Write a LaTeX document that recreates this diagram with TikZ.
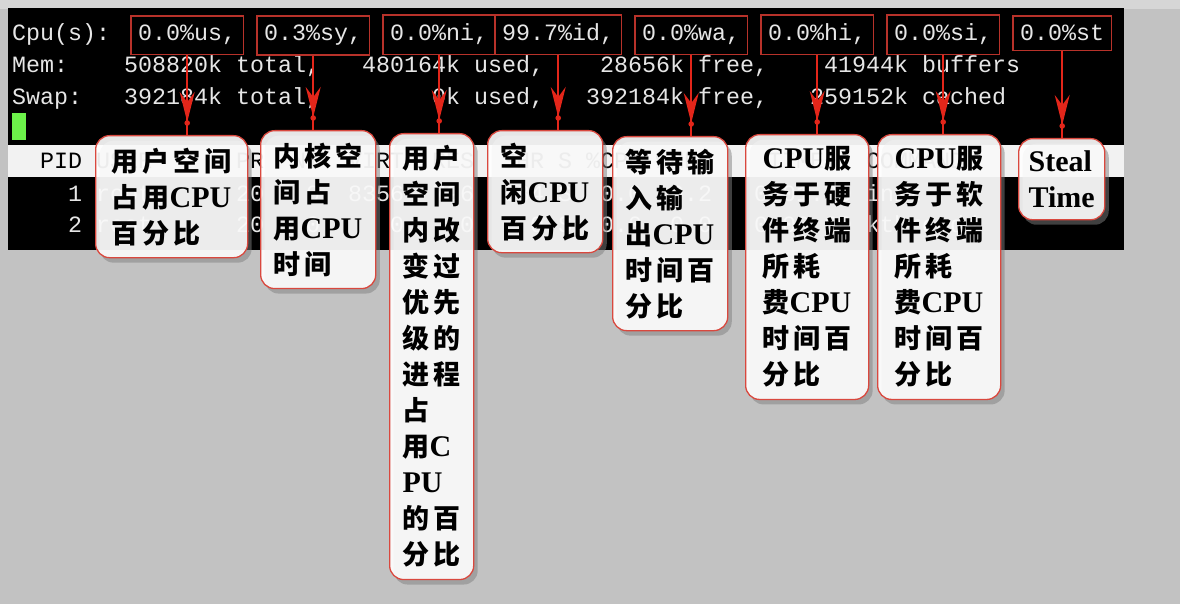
\documentclass[tikz,border=0pt]{standalone}
\usepackage{fontspec}
\usepackage{xcolor}
\usepackage{tikz}
\usetikzlibrary{arrows.meta,positioning,fit,shadows,decorations.markings}
\newfontfamily\termfont{Liberation Mono}
\newfontfamily\cjk[LetterSpace=15]{Noto Sans CJK SC}
\newfontfamily\latinfont{Liberation Serif}
\newcommand\lat[1]{{\latinfont\bfseries\fontsize{30}{36}\selectfont #1}}
\definecolor{TermBg}{HTML}{000000}
\definecolor{TermFg}{HTML}{E6E6E6}
\definecolor{HeadBand}{HTML}{F2F2F2}
\definecolor{CursorGreen}{HTML}{6CF24A}
\definecolor{PageGray}{HTML}{C2C2C2}
\definecolor{TopStrip}{HTML}{D6D6D6}
\definecolor{BoxRed}{HTML}{B8322A}
\definecolor{ArrowRed}{HTML}{E3261A}
\definecolor{NoteRed}{HTML}{D9483E}
\tikzset{
  termtext/.style={font=\termfont\fontsize{23.33}{28}\selectfont, text=TermFg,
    inner sep=0pt, anchor=base west},
  headtext/.style={termtext, text=black},
  valbox/.style={draw=BoxRed, line width=1.4pt, inner xsep=7pt, inner ysep=9pt},
  note/.style={draw=NoteRed, line width=1.3pt, rounded corners=14pt, fill=white,
    fill opacity=0.9, text opacity=1, text=black,
    drop shadow={shadow xshift=4pt, shadow yshift=-5pt, opacity=0.5},
    inner xsep=13pt, inner ysep=12pt, align=left, anchor=north west,
    font=\cjk\bfseries\fontsize{27}{36}\selectfont},
  pointer/.style={ArrowRed, line width=1.8pt, postaction={decorate},
    decoration={markings,
      mark=at position -13pt with {\arrow{Stealth[length=30pt,width=15pt,inset=10pt]}},
      mark=at position -12pt with {\fill circle (2.8pt);}}},
}
\begin{document}
\begin{tikzpicture}[x=1pt,y=-1pt]
\useasboundingbox (0,0) rectangle (1180,604);
\fill[PageGray] (0,0) rectangle (1180,604);
\fill[TopStrip] (0,0) rectangle (1180,9);
% terminal window
\fill[TermBg] (8,8) rectangle (1124,250);
\fill[HeadBand] (8,145) rectangle (1124,177);
\fill[CursorGreen] (12,113) rectangle (26,140);

\node[termtext] (cpu) at (12,41) {Cpu(s):};
\foreach \col/\val/\nm in {9/{0.0\%us,}/us, 18/{0.3\%sy,}/sy, 27/{0.0\%ni,}/ni,
    35/{99.7\%id,}/id, 45/{0.0\%wa,}/wa, 54/{0.0\%hi,}/hi, 63/{0.0\%si,}/si, 72/{0.0\%st}/st}
  \node[termtext] (\nm) at (12+\col*14,41) {\val};
\node[termtext] (mem) at (12,73) {Mem:~~~~508820k total,~~~480164k used,~~~~28656k free,~~~~41944k buffers};
\node[termtext] (swap) at (12,105) {Swap:~~~392184k total,~~~~~~~~0k used,~~~392184k free,~~~259152k cached};
\node[headtext] (head) at (12,169) {~~PID USER~~~~~~PR~~NI~~VIRT~~RES~~SHR S \%CPU \%MEM~~~~TIME+~~COMMAND};
\node[termtext] (row1) at (12,201) {~~~~1 root~~~~~~20~~~0~~8356~~796~~684 S~~0.0~~0.2~~~0:01.00 init};
\node[termtext] (row2) at (12,233) {~~~~2 root~~~~~~20~~~0~~~~~0~~~~0~~~~0 S~~0.0~~0.0~~~0:00.00 kthreadd};

\foreach \nm in {us,sy,ni,id,wa,hi,si,st}
  \node[valbox, fit=(\nm)] (\nm-box) {};

% callouts
\node[note, minimum width=152pt] (us-note) at (95,135) {用户空间\\占用\lat{CPU}\\百分比};
\node[note] (sy-note) at (260,130) {内核空\\间占\\用\lat{CPU}\\时间};
\node[note] (ni-note) at (389,133) {用户\\空间\\内改\\变过\\优先\\级的\\进程\\占\\用\lat{C}\\\lat{PU}\\的百\\分比};
\node[note] (id-note) at (487,130) {空\\闲\lat{CPU}\\百分比};
\node[note] (wa-note) at (612,136) {等待输\\入输\\出\lat{CPU}\\时间百\\分比};
\node[note, minimum width=123pt] (hi-note) at (745,134) {\lat{CPU}服\\务于硬\\件终端\\所耗\\费\lat{CPU}\\时间百\\分比};
\node[note, minimum width=123pt] (si-note) at (877,134) {\lat{CPU}服\\务于软\\件终端\\所耗\\费\lat{CPU}\\时间百\\分比};
\node[note, inner xsep=10pt] (st-note) at (1018,138) {\lat{Steal}\\\lat{Time}};

\foreach \nm in {us,sy,ni,id,wa,hi,si,st}
  \draw[pointer] (\nm-box.south) -- (\nm-box.south |- \nm-note.north);
\end{tikzpicture}
\end{document}
